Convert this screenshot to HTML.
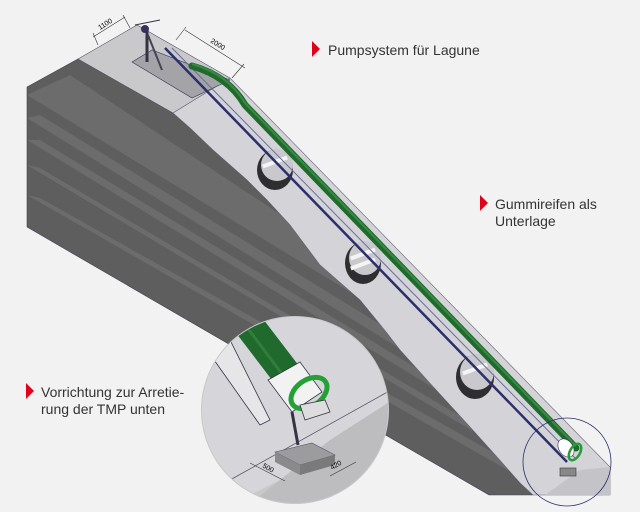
<!DOCTYPE html>
<html><head><meta charset="utf-8"><style>
html,body{margin:0;padding:0;background:#f2f2f2}
svg{display:block}
text{font-family:"Liberation Sans",sans-serif}
</style></head><body>
<svg width="640" height="512" viewBox="0 0 640 512" xmlns="http://www.w3.org/2000/svg">
<rect width="640" height="512" fill="#f2f2f2"/>
<defs>
<clipPath id="dark"><polygon points="27,87 78,59 173,113 190,128 213,150 247,180 267,200 290,225 320,265 360,300 387,333 400,350 427,380 470,427 497,457 520,483 533,495 489,495 27,227"/></clipPath>
<clipPath id="mag"><circle cx="295" cy="410" r="93"/></clipPath>
</defs>
<!-- dark face -->
<polygon points="27,87 78,59 173,113 190,128 213,150 247,180 267,200 290,225 320,265 360,300 387,333 400,350 427,380 470,427 497,457 520,483 533,495 489,495 27,227" fill="#5e5e5e" stroke="#445" stroke-width="0.6"/>
<g clip-path="url(#dark)" fill="#6c6c6c">
<polygon points="27,95 70,75 560,400 560,420"/>
<polygon points="27,118 40,115 560,435 560,448"/>
<polygon points="27,140 40,140 560,455 560,465"/>
<polygon points="27,165 40,168 560,475 560,483"/>
<polygon points="27,195 40,198 560,490 560,500"/>
</g>
<!-- top platform -->
<polygon points="78,59 137,25 230,78 173,113" fill="#c9c9cc" stroke="#556" stroke-width="0.6"/>
<!-- slope face -->
<polygon points="173,113 230,78 610,467 610,495 533,495 520,483 497,457 470,427 427,380 400,350 387,333 360,300 320,265 290,225 267,200 247,180 213,150 190,128" fill="#d3d3d8" stroke="#667" stroke-width="0.6"/>
<polygon points="545,495 580,470 610,467 610,495" fill="#c4c4c8"/>
<polygon points="132,62 152,50 230,80 192,98" fill="#a4a4a8" stroke="#335" stroke-width="0.6"/>
<!-- tires -->
<g>
<ellipse cx="275" cy="170" rx="18" ry="20" fill="#2e2e30"/>
<ellipse cx="277" cy="165" rx="16" ry="16" fill="#c8c8cd"/>
<rect x="262" y="160" width="26" height="4" fill="#f4f4f4" transform="rotate(-20 275 162)"/>
<ellipse cx="363" cy="263" rx="18" ry="21" fill="#2e2e30"/>
<ellipse cx="365" cy="258" rx="16" ry="17" fill="#c8c8cd"/>
<rect x="350" y="252" width="26" height="4" fill="#f4f4f4" transform="rotate(-20 363 254)"/>
<rect x="350" y="262" width="26" height="4" fill="#f4f4f4" transform="rotate(-20 363 264)"/>
<ellipse cx="475" cy="377" rx="19" ry="22" fill="#2e2e30"/>
<ellipse cx="477" cy="372" rx="17" ry="18" fill="#c8c8cd"/>
<rect x="462" y="367" width="26" height="4" fill="#f4f4f4" transform="rotate(-20 475 369)"/>
</g>
<!-- rail -->
<line x1="165" y1="48" x2="567" y2="462" stroke="#2b2f6b" stroke-width="2.5"/>
<line x1="172" y1="48" x2="575" y2="458" stroke="#6a6f9a" stroke-width="1"/>
<!-- pipe -->
<path d="M192,66 Q228,76 245,105 L576,448" fill="none" stroke="#1f6a2c" stroke-width="7" stroke-linecap="round"/>
<path d="M192,64 Q228,74 245,103 L576,446" fill="none" stroke="#3a8a45" stroke-width="2"/>
<!-- top device -->
<line x1="147" y1="62" x2="147" y2="30" stroke="#334" stroke-width="3"/>
<line x1="148" y1="35" x2="162" y2="70" stroke="#445" stroke-width="2"/>
<circle cx="145" cy="29" r="4" fill="#3a3060"/>
<line x1="135" y1="25" x2="160" y2="20" stroke="#334" stroke-width="1"/>
<!-- dimension lines -->
<g stroke="#333" stroke-width="0.6" fill="none">
<line x1="93" y1="37" x2="125" y2="17"/><line x1="93" y1="33" x2="98" y2="45"/><line x1="123" y1="15" x2="130" y2="28"/>
<line x1="185" y1="30" x2="245" y2="68"/><line x1="186" y1="27" x2="176" y2="40"/><line x1="244" y1="64" x2="232" y2="78"/>
</g>
<text x="100" y="30" font-size="7" transform="rotate(-32 100 30)">1100</text>
<text x="210" y="42" font-size="7" transform="rotate(32 210 42)">2000</text>
<!-- small circle at bottom -->
<circle cx="567" cy="462" r="44" fill="none" stroke="#2b2f6b" stroke-width="0.8"/>
<ellipse cx="566" cy="448" rx="7" ry="10" fill="#fff" stroke="#334" stroke-width="0.6" transform="rotate(-35 566 448)"/>
<ellipse cx="575" cy="452" rx="5" ry="9" fill="none" stroke="#2a9a3a" stroke-width="2.5" transform="rotate(30 575 452)"/>
<rect x="560" y="468" width="16" height="8" fill="#888" stroke="#334" stroke-width="0.6"/>
<!-- magnified circle -->
<circle cx="295" cy="410" r="94" fill="#c8c8cb"/>
<g clip-path="url(#mag)">
<polygon points="200,330 300,310 400,330 400,420 360,440 200,520" fill="#d6d6da"/>
<polygon points="330,440 400,395 400,520 230,520" fill="#bdbdc0"/>
<line x1="230" y1="480" x2="400" y2="385" stroke="#556" stroke-width="0.8"/>
<polygon points="200,340 225,330 270,420 260,425" fill="#e6e6e8" stroke="#334" stroke-width="0.8"/>
<path d="M245,320 L300,392" stroke="#1f6a2c" stroke-width="30" stroke-linecap="butt"/>
<path d="M240,318 L294,390" stroke="#3c8a48" stroke-width="3" opacity=".6"/>
<polygon points="268,380 300,362 322,392 292,412" fill="#f2f2f2" stroke="#334" stroke-width="0.8"/>
<ellipse cx="309" cy="393" rx="20" ry="13" fill="none" stroke="#24a036" stroke-width="5" transform="rotate(-35 309 393)"/>
<polygon points="300,405 325,400 330,412 305,420" fill="#ddd" stroke="#334" stroke-width="0.8"/>
<line x1="292" y1="412" x2="298" y2="445" stroke="#334" stroke-width="3"/>
<polygon points="275,452 312,443 335,455 300,465" fill="#9c9c9e" stroke="#556" stroke-width="0.6"/>
<polygon points="275,452 300,465 300,475 275,462" fill="#8a8a8c"/>
<polygon points="300,465 335,455 335,465 300,475" fill="#7a7a7c"/>
<g stroke="#333" stroke-width="0.6"><line x1="250" y1="463" x2="285" y2="481"/><line x1="330" y1="476" x2="356" y2="462"/></g>
<text x="262" y="467" font-size="7" transform="rotate(30 262 467)">500</text>
<text x="332" y="470" font-size="7" transform="rotate(-30 332 470)">420</text>
</g>
<!-- labels -->
<polygon points="312,41 320,49 312,57" fill="#e3001b"/>
<text x="328" y="55" font-size="14" fill="#333">Pumpsystem für Lagune</text>
<polygon points="480,195 488,203 480,211" fill="#e3001b"/>
<text x="495" y="209" font-size="14" fill="#333">Gummireifen als</text>
<text x="495" y="226" font-size="14" fill="#333">Unterlage</text>
<polygon points="26,383 34,391 26,399" fill="#e3001b"/>
<text x="41" y="397" font-size="14" fill="#333">Vorrichtung zur Arretie-</text>
<text x="41" y="414" font-size="14" fill="#333">rung der TMP unten</text>
</svg>
</body></html>
